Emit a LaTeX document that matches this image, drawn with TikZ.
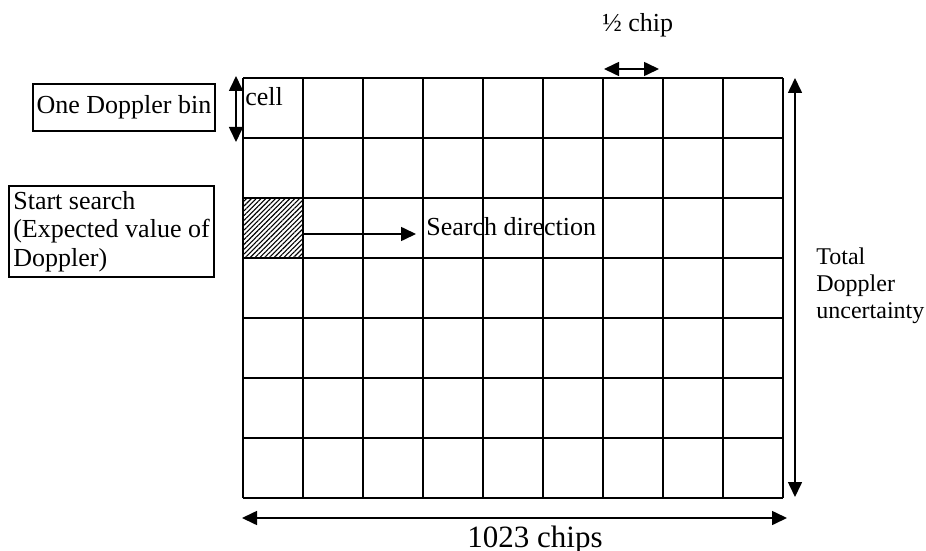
\documentclass[tikz,border=0pt]{standalone}
\usepackage{fontspec}
\setmainfont{Liberation Serif}
\usetikzlibrary{arrows.meta,patterns.meta}
\begin{document}
\begin{tikzpicture}[x=0.5pt,y=-0.5pt,
  gridline/.style={line width=1pt},
  tip/.tip={Triangle[length=7.5pt,width=7pt]},
  dimline/.style={line width=0.8pt,tip-tip},
  oneway/.style={line width=0.8pt,-tip},
  lbl/.style={font=\fontsize{13}{14}\selectfont, inner sep=0pt},
  box/.style={draw, line width=0.9pt, font=\fontsize{13}{14.25}\selectfont}]
\useasboundingbox (0,0) rectangle (926,551);
% hatched start cell
\fill[pattern={Lines[angle=45,distance=1.7pt,line width=0.55pt]}] (243,198) rectangle (303,258);
% grid
\foreach \i in {0,...,9} \draw[gridline] ({243+60*\i},78) -- ({243+60*\i},498);
\foreach \j in {0,...,7} \draw[gridline] (243,{78+60*\j}) -- (783,{78+60*\j});
% labels
\node[box, minimum width=91pt, minimum height=23.5pt, inner sep=1pt] (bin) at (124,107.5) {One Doppler bin};
\node[box, minimum width=102.5pt, inner xsep=1pt, inner ysep=1pt, minimum height=45.5pt, align=left] (start) at (111.5,231.5) {Start search\\(Expected value of\\Doppler)};
\node[lbl, anchor=base west] (cell) at (245,105) {cell};
\node[lbl, anchor=base west] (dir) at (426,235) {Search direction};
\node[lbl, anchor=west, align=left, font=\fontsize{12}{13.5}\selectfont] (total) at (816,286) {Total\\Doppler\\uncertainty};
\node[lbl, anchor=base west] (half) at (602,32) {½ chip};
\node[lbl, anchor=base west, font=\fontsize{15.5}{16}\selectfont] (chips) at (467,547) {1023 chips};
% arrow end points
\coordinate (s1) at (236,76);  \coordinate (s2) at (236,142);
\coordinate (h1) at (604,69);  \coordinate (h2) at (659,69);
\coordinate (v1) at (795,78);  \coordinate (v2) at (795,497);
\coordinate (b1) at (242,518); \coordinate (b2) at (787,518);
\coordinate (d1) at (303,234); \coordinate (d2) at (416,234);
\draw[dimline] (s1) -- (s2);
\draw[dimline] (h1) -- (h2);
\draw[dimline] (v1) -- (v2);
\draw[dimline] (b1) -- (b2);
\draw[oneway] (d1) -- (d2);
\end{tikzpicture}
\end{document}
